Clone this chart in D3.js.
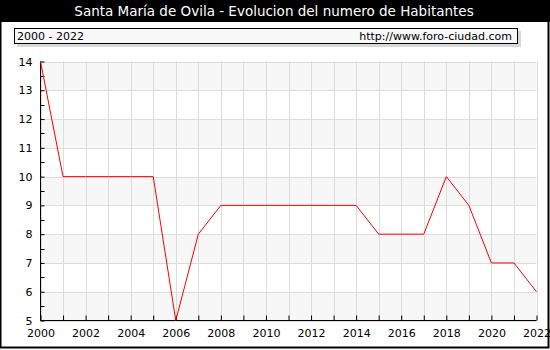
<!DOCTYPE html>
<html>
<head>
<meta charset="utf-8">
<script src="https://cdn.jsdelivr.net/npm/d3@7"></script>
<style>
  html, body { margin: 0; padding: 0; background: #fff; }
  svg { display: block; font-family: Verdana, "DejaVu Sans", sans-serif; }
</style>
</head>
<body>
<svg id="chart" width="550" height="350"></svg>
<script>
// Population of Santa María de Ovila, 2000-2022
const years = [2000, 2001, 2002, 2003, 2004, 2005, 2006, 2007, 2008, 2009, 2010, 2011,
               2012, 2013, 2014, 2015, 2016, 2017, 2018, 2019, 2020, 2021, 2022];
const habitantes = [14, 10, 10, 10, 10, 10, 5, 8, 9, 9, 9, 9,
                    9, 9, 9, 8, 8, 8, 10, 9, 7, 7, 6];
const xTickLabels = [2000, 2002, 2004, 2006, 2008, 2010, 2012, 2014, 2016, 2018, 2020, 2022];
const yTickLabels = [5, 6, 7, 8, 9, 10, 11, 12, 13, 14];

const titleText = "Santa María de Ovila - Evolucion del numero de Habitantes";
const rangeText = "2000 - 2022";
const siteText = "http://www.foro-ciudad.com";

const svg = d3.select("#chart");
const W = 550, H = 350;
const plot = { left: 40.5, right: 536.5, top: 61.5, bottom: 320.5 };

const x = d3.scaleLinear().domain([2000, 2022]).range([plot.left, plot.right]);
const y = d3.scaleLinear().domain([5, 14]).range([plot.bottom, plot.top]);

// Frame and title bar
svg.append("rect").attr("x", 0.5).attr("y", 0.5).attr("width", W - 2).attr("height", H - 3)
  .attr("fill", "#fff").attr("stroke", "#000").attr("stroke-width", 2);
svg.append("rect").attr("x", 0).attr("y", 0).attr("width", W).attr("height", 22).attr("fill", "#000");
svg.append("text").attr("x", W / 2 - 1).attr("y", 16).attr("text-anchor", "middle")
  .attr("fill", "#fff").attr("font-size", 13.5).text(titleText);

// Info box with shadow
svg.append("rect").attr("x", 17).attr("y", 31).attr("width", 504).attr("height", 16).attr("fill", "#d8d8d8");
svg.append("rect").attr("x", 14.5).attr("y", 28.5).attr("width", 503).attr("height", 15)
  .attr("fill", "#f8f8f8").attr("stroke", "#000");
svg.append("text").attr("x", 17).attr("y", 40).attr("font-size", 11).text(rangeText);
svg.append("text").attr("x", 512).attr("y", 40).attr("font-size", 11).attr("text-anchor", "end").text(siteText);

// Alternating horizontal bands
const bands = d3.range(5, 14).filter(v => (v - 5) % 2 === 0);
svg.append("g").selectAll("rect").data(bands).join("rect")
  .attr("x", plot.left).attr("width", plot.right - plot.left)
  .attr("y", d => y(d + 1)).attr("height", d => y(d) - y(d + 1))
  .attr("fill", "#f7f7f7");

// Grid lines
svg.append("g").selectAll("line").data(years).join("line")
  .attr("x1", d => Math.round(x(d)) + 0.5).attr("x2", d => Math.round(x(d)) + 0.5)
  .attr("y1", plot.top).attr("y2", plot.bottom)
  .attr("stroke", "#dcdcdc");
svg.append("g").selectAll("line").data(yTickLabels).join("line")
  .attr("x1", plot.left).attr("x2", plot.right)
  .attr("y1", d => Math.round(y(d)) + 0.5).attr("y2", d => Math.round(y(d)) + 0.5)
  .attr("stroke", "#dcdcdc");

// Axes with inward ticks
const xAxis = d3.axisBottom(x).tickValues(years).tickSize(-5)
  .tickFormat(d => xTickLabels.includes(d) ? d : "");
const gx = svg.append("g").attr("transform", `translate(0,${plot.bottom})`).call(xAxis);
gx.select(".domain").attr("d", `M${plot.left},0H${plot.right}`);
gx.selectAll("text").attr("dy", "0.35em").attr("y", 13).attr("font-size", 11)
  .attr("font-family", "Verdana, 'DejaVu Sans', sans-serif").attr("fill", "#000");

const yAxis = d3.axisLeft(y).tickValues(yTickLabels).tickSize(-4).tickPadding(8);
const gy = svg.append("g").attr("transform", `translate(${plot.left},0)`).call(yAxis);
gy.select(".domain").attr("d", `M0,${plot.top}V${plot.bottom}`);
gy.selectAll("text").attr("font-size", 11)
  .attr("font-family", "Verdana, 'DejaVu Sans', sans-serif").attr("fill", "#000");

// Minor ticks at half values
const halves = d3.range(5.5, 14, 1);
svg.append("g").selectAll("line").data(halves).join("line")
  .attr("x1", plot.left).attr("x2", plot.left + 4)
  .attr("y1", d => Math.round(y(d)) + 0.5).attr("y2", d => Math.round(y(d)) + 0.5)
  .attr("stroke", "#000");

// Population line
const line = d3.line().x((d, i) => x(years[i])).y(d => y(d));
svg.append("path").datum(habitantes).attr("d", line)
  .attr("fill", "none").attr("stroke", "#ff0000").attr("stroke-width", 1);
</script>
</body>
</html>
